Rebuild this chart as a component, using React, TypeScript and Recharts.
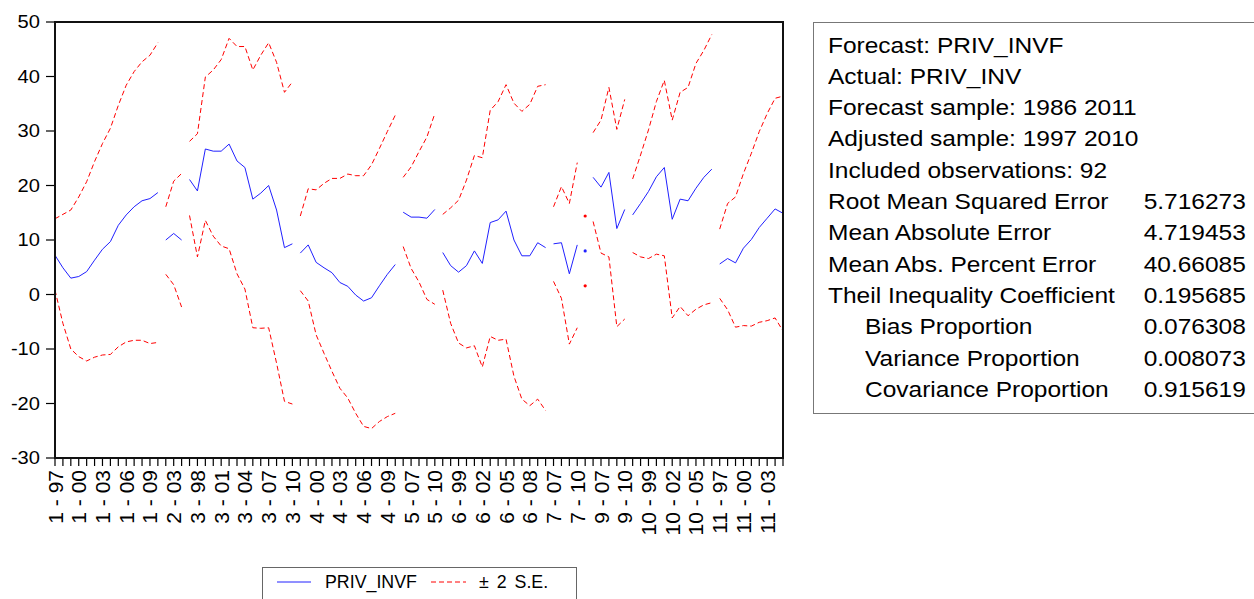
import React from 'react';
import { LineChart, Line, XAxis, YAxis } from 'recharts';

// observation labels, cross-section - year
const obsLabels = [
  '1 - 97', '1 - 98', '1 - 99', '1 - 00', '1 - 01', '1 - 02', '1 - 03', '1 - 04', '1 - 05', '1 - 06', '1 - 07', '1 - 08', '1 - 09', '1 - 10',
  '2 - 02', '2 - 03', '2 - 04',
  '3 - 97', '3 - 98', '3 - 99', '3 - 00', '3 - 01', '3 - 02', '3 - 03', '3 - 04', '3 - 05', '3 - 06', '3 - 07', '3 - 08', '3 - 09', '3 - 10',
  '4 - 98', '4 - 99', '4 - 00', '4 - 01', '4 - 02', '4 - 03', '4 - 04', '4 - 05', '4 - 06', '4 - 07', '4 - 08', '4 - 09', '4 - 10',
  '5 - 06', '5 - 07', '5 - 08', '5 - 09', '5 - 10',
  '6 - 97', '6 - 98', '6 - 99', '6 - 00', '6 - 01', '6 - 02', '6 - 03', '6 - 04', '6 - 05', '6 - 06', '6 - 07', '6 - 08', '6 - 09', '6 - 10',
  '7 - 07', '7 - 08', '7 - 09', '7 - 10',
  '8 - 10',
  '9 - 06', '9 - 07', '9 - 08', '9 - 09', '9 - 10',
  '10 - 97', '10 - 98', '10 - 99', '10 - 00', '10 - 01', '10 - 02', '10 - 03', '10 - 04', '10 - 05', '10 - 06', '10 - 07',
  '11 - 97', '11 - 98', '11 - 99', '11 - 00', '11 - 01', '11 - 02', '11 - 03', '11 - 04', '11 - 05',
];

const forecast = [
  7.2, 4.9, 3.0, 3.3, 4.2, 6.3, 8.3, 9.7, 12.7, 14.6, 16.1, 17.2, 17.6, 18.7,
  10.0, 11.2, 10.0,
  21.1, 19.0, 26.7, 26.3, 26.3, 27.6, 24.5, 23.3, 17.5, 18.6, 20.0, 15.5, 8.6, 9.3,
  7.6, 9.1, 5.9, 4.9, 4.0, 2.2, 1.5, -0.1, -1.2, -0.6, 1.6, 3.7, 5.5,
  15.1, 14.2, 14.2, 14.0, 15.6,
  7.7, 5.3, 4.1, 5.3, 8.0, 5.7, 13.2, 13.7, 15.3, 10.0, 7.1, 7.1, 9.5, 8.6,
  9.3, 9.5, 3.8, 9.1,
  8.0,
  21.5, 19.7, 22.4, 12.1, 15.6,
  14.6, 16.7, 18.9, 21.6, 23.3, 13.8, 17.5, 17.2, 19.5, 21.5, 23.0,
  5.6, 6.6, 5.8, 8.5, 10.1, 12.3, 14.0, 15.7, 14.9,
];

const upperBand = [
  13.9, 14.7, 15.5, 17.9, 20.7, 24.4, 27.7, 30.5, 34.7, 38.4, 40.9, 42.7, 43.9, 46.2,
  16.1, 20.8, 22.2,
  28.1, 29.5, 39.9, 41.2, 43.1, 47.0, 45.5, 45.5, 41.2, 43.9, 46.2, 42.6, 37.1, 39.0,
  14.4, 19.4, 19.2, 20.4, 21.3, 21.3, 22.1, 21.8, 21.8, 23.8, 26.8, 29.9, 32.9,
  21.5, 23.4, 26.2, 28.9, 33.2,
  14.7, 15.9, 17.3, 21.0, 25.5, 25.1, 33.8, 35.4, 38.5, 35.1, 33.6, 34.9, 38.2, 38.5,
  16.1, 19.8, 16.7, 24.2,
  14.4,
  29.7, 32.0, 38.0, 30.3, 35.8,
  21.2, 25.6, 30.2, 35.4, 39.3, 32.0, 37.1, 38.0, 42.4, 44.8, 47.7,
  12.0, 16.7, 17.9, 22.2, 25.9, 29.9, 33.2, 36.0, 36.4,
];

const lowerBand = [
  0.8, -5.3, -10.0, -11.4, -12.2, -11.5, -11.1, -11.0, -9.6, -8.7, -8.4, -8.4, -9.0, -8.8,
  3.7, 1.8, -2.3,
  14.5, 6.9, 13.6, 10.7, 8.9, 8.4, 3.8, 1.0, -6.1, -6.2, -6.1, -12.6, -19.6, -20.1,
  0.7, -1.2, -7.4, -10.8, -14.1, -17.2, -19.0, -21.8, -24.2, -24.6, -23.3, -22.4, -21.8,
  8.8, 4.8, 2.3, -0.9, -1.8,
  0.8, -5.3, -8.9, -9.8, -9.4, -13.3, -7.7, -8.4, -8.2, -15.0, -19.2, -20.4, -19.2, -21.3,
  2.4, -0.7, -9.1, -6.1,
  1.6,
  13.4, 7.6, 6.9, -5.9, -4.5,
  7.7, 6.9, 6.6, 7.4, 7.1, -4.3, -2.2, -3.9, -2.7, -1.9, -1.5,
  -0.7, -2.8, -6.0, -5.7, -5.8, -5.1, -4.8, -4.3, -6.7,
];

const yTicks = [-30, -20, -10, 0, 10, 20, 30, 40, 50];

const statLabels = [
  'Forecast: PRIV_INVF',
  'Actual: PRIV_INV',
  'Forecast sample: 1986 2011',
  'Adjusted sample: 1997 2010',
  'Included observations: 92',
  'Root Mean Squared Error',
  'Mean Absolute Error',
  'Mean Abs. Percent Error',
  'Theil Inequality Coefficient',
  'Bias Proportion',
  'Variance Proportion',
  'Covariance Proportion',
];
const statValues = ['', '', '', '', '', '5.716273', '4.719453', '40.66085', '0.195685', '0.076308', '0.008073', '0.915619'];
const statIndent = [false, false, false, false, false, false, false, false, false, true, true, true];

const BLUE = '#2020ff';
const RED = '#ff0000';
const FONT = '"Liberation Sans", Arial, sans-serif';
const SX = 1.15; // some text in the reference is a bit stretched horizontally

// one line per cross-section so the series break between them
const sectionOf = (label: string) => label.split(' - ')[0];
const sections = Array.from(new Set(obsLabels.map(sectionOf)));

const data = obsLabels.map((label, i) => {
  const cs = sectionOf(label);
  const row: Record<string, string | number> = { obs: label };
  row['f' + cs] = forecast[i];
  row['u' + cs] = upperBand[i];
  row['l' + cs] = lowerBand[i];
  return row;
});

const XTick = (props: any) => {
  const { x, y, payload, index } = props;
  return (
    <g>
      <line x1={x} y1={y} x2={x} y2={y + 8} stroke="#000" strokeWidth={1.2} />
      {index % 3 === 0 && (
        <text
          transform={`translate(${x},${y + 12}) rotate(-90)`}
          textAnchor="end"
          dominantBaseline="central"
          fontSize={21}
          fontFamily={FONT}
          fill="#000"
        >
          {payload.value}
        </text>
      )}
    </g>
  );
};

const YTick = (props: any) => {
  const { x, y, payload } = props;
  return (
    <g>
      <line x1={x - 9} y1={y} x2={x} y2={y} stroke="#000" strokeWidth={1.2} />
      <text
        transform={`translate(${x - 15},${y}) scale(${SX},1)`}
        textAnchor="end"
        dominantBaseline="central"
        fontSize={17.5}
        fontFamily={FONT}
        fill="#000"
      >
        {payload.value}
      </text>
    </g>
  );
};

export default function App() {
  return (
    <div style={{ position: 'absolute', left: 0, top: 0, width: 1254, height: 599, overflow: 'hidden', background: '#fff', fontFamily: FONT }}>
      <div style={{ position: 'absolute', left: 0, top: 0 }}>
        <LineChart width={800} height={560} data={data} margin={{ top: 22, right: 17, left: 0, bottom: 0 }}>
          <XAxis
            dataKey="obs"
            interval={0}
            height={102}
            tickSize={0}
            tickMargin={0}
            tickLine={false}
            axisLine={false}
            tick={<XTick />}
          />
          <YAxis
            domain={[-30, 50]}
            ticks={yTicks}
            width={55}
            tickSize={0}
            tickMargin={0}
            tickLine={false}
            axisLine={false}
            tick={<YTick />}
            allowDataOverflow
          />
          {sections.map((cs) => {
            const single = obsLabels.filter((l) => sectionOf(l) === cs).length === 1;
            return [
              <Line
                key={'u' + cs}
                dataKey={'u' + cs}
                type="linear"
                stroke={RED}
                strokeWidth={1}
                strokeDasharray="5 3"
                dot={single ? { r: 1.6, fill: RED, stroke: 'none' } : false}
                activeDot={false}
                isAnimationActive={false}
              />,
              <Line
                key={'l' + cs}
                dataKey={'l' + cs}
                type="linear"
                stroke={RED}
                strokeWidth={1}
                strokeDasharray="5 3"
                dot={single ? { r: 1.6, fill: RED, stroke: 'none' } : false}
                activeDot={false}
                isAnimationActive={false}
              />,
              <Line
                key={'f' + cs}
                dataKey={'f' + cs}
                type="linear"
                stroke={BLUE}
                strokeWidth={1}
                dot={single ? { r: 1.6, fill: BLUE, stroke: 'none' } : false}
                activeDot={false}
                isAnimationActive={false}
              />,
            ];
          })}
        </LineChart>
      </div>

      {/* plot frame */}
      <div
        style={{
          position: 'absolute',
          left: 54,
          top: 21,
          width: 730,
          height: 438,
          border: '2px solid #111',
          boxSizing: 'border-box',
          pointerEvents: 'none',
        }}
      />

      {/* legend */}
      <div
        style={{
          position: 'absolute',
          left: 262,
          top: 567,
          width: 315,
          height: 40,
          border: '1px solid #666',
          boxSizing: 'border-box',
        }}
      >
        <svg width={315} height={30} style={{ position: 'absolute', left: 0, top: 0 }}>
          <line x1={14} y1={14} x2={48} y2={14} stroke={BLUE} strokeWidth={1} />
          <text x={62} y={14} dominantBaseline="central" fontSize={17.8} fontFamily={FONT}>
            PRIV_INVF
          </text>
          <line x1={168} y1={14} x2={203} y2={14} stroke={RED} strokeWidth={1} strokeDasharray="5 3" />
          <text x={216} y={14} dominantBaseline="central" fontSize={17.8} fontFamily={FONT} wordSpacing={3}>
            ± 2 S.E.
          </text>
        </svg>
      </div>

      {/* forecast evaluation box */}
      <div
        style={{
          position: 'absolute',
          left: 813,
          top: 22,
          width: 460,
          height: 392,
          border: '1px solid #777',
          boxSizing: 'border-box',
        }}
      >
        {statLabels.map((label, i) => (
          <div
            key={label}
            style={{ position: 'absolute', left: 0, top: 7.5 + i * 31.3, width: 432, height: 31.3, lineHeight: '31.3px', fontSize: 21.3, whiteSpace: 'nowrap' }}
          >
            <span
              style={{
                position: 'absolute',
                left: statIndent[i] ? 51 : 14,
                display: 'inline-block',
                transform: `scaleX(${SX})`,
                transformOrigin: 'left center',
              }}
            >
              {label}
            </span>
            {statValues[i] && (
              <span
                style={{
                  position: 'absolute',
                  right: 0,
                  display: 'inline-block',
                  transform: `scaleX(${SX})`,
                  transformOrigin: 'right center',
                }}
              >
                {statValues[i]}
              </span>
            )}
          </div>
        ))}
      </div>
    </div>
  );
}
